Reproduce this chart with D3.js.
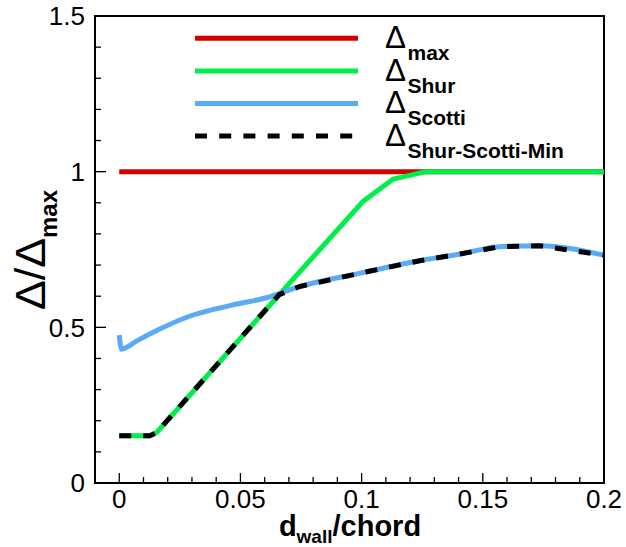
<!DOCTYPE html>
<html>
<head>
<meta charset="utf-8">
<script src="https://cdn.jsdelivr.net/npm/d3@7"></script>
<style>
  html, body { margin: 0; padding: 0; background: #fff; }
  svg { display: block; font-family: "Liberation Sans", Arial, sans-serif; }
</style>
</head>
<body>
<svg id="chart" width="626" height="547"></svg>
<script>
// ---- data ----
const xTicks = [0, 0.05, 0.1, 0.15, 0.2];
const xTickLabels = ["0", "0.05", "0.1", "0.15", "0.2"];
const yTicks = [0, 0.5, 1, 1.5];
const yTickLabels = ["0", "0.5", "1", "1.5"];

const maxX = [0, 0.2];
const maxV = [1, 1];

const shurX = [0, 0.0126, 0.0154, 0.066, 0.1005, 0.1129, 0.1266, 0.2];
const shurV = [0.152, 0.152, 0.162, 0.605, 0.904, 0.976, 1.0, 1.0];

const scottiX = [0, 0.0009, 0.0078, 0.0174, 0.0284, 0.038, 0.0469, 0.0607, 0.0744, 0.1, 0.1239, 0.1403, 0.1568, 0.1733, 0.2];
const scottiV = [0.475, 0.43, 0.459, 0.497, 0.534, 0.556, 0.572, 0.595, 0.631, 0.675, 0.714, 0.735, 0.759, 0.762, 0.732];

const minX = [0, 0.0126, 0.0154, 0.066, 0.0744, 0.1, 0.1239, 0.1403, 0.1568, 0.1733, 0.2];
const minV = [0.152, 0.152, 0.162, 0.605, 0.631, 0.675, 0.714, 0.735, 0.759, 0.762, 0.732];

const seriesNames = ["max", "Shur", "Scotti", "Shur-Scotti-Min"];

// ---- layout ----
const svg = d3.select("#chart");
const L = 95, R = 604, T = 16, B = 483;
const x = d3.scaleLinear().domain([-0.01, 0.2]).range([L, R]);
const y = d3.scaleLinear().domain([0, 1.5]).range([B, T]);

// ticks (inward)
const gx = svg.append("g").attr("transform", `translate(0,${B})`);
gx.selectAll("line.tk").data(d3.range(0, 21)).enter().append("line")
  .attr("x1", i => x(i * 0.01)).attr("x2", i => x(i * 0.01))
  .attr("y1", 0).attr("y2", i => (i % 5 === 0 ? -10 : -6))
  .attr("stroke", "#000").attr("stroke-width", 1.3);
gx.selectAll("text").data(xTicks).enter().append("text")
  .attr("x", d => x(d)).attr("y", 25)
  .attr("text-anchor", "middle").attr("font-size", 26).text((d, i) => xTickLabels[i]);

const gy = svg.append("g").attr("transform", `translate(${L},0)`);
gy.selectAll("line.tk").data(d3.range(0, 16)).enter().append("line")
  .attr("y1", i => y(i * 0.1)).attr("y2", i => y(i * 0.1))
  .attr("x1", 0).attr("x2", i => (i % 5 === 0 ? 11 : 6))
  .attr("stroke", "#000").attr("stroke-width", 1.3);
gy.selectAll("text").data(yTicks).enter().append("text")
  .attr("x", -10).attr("y", d => y(d))
  .attr("dy", "0.36em")
  .attr("text-anchor", "end").attr("font-size", 26).text((d, i) => yTickLabels[i]);

// frame
svg.append("rect").attr("x", L).attr("y", T).attr("width", R - L).attr("height", B - T)
  .attr("fill", "none").attr("stroke", "#000").attr("stroke-width", 2);

// lines
svg.append("clipPath").attr("id", "clip").append("rect")
  .attr("x", L).attr("y", T).attr("width", R - L).attr("height", B - T);
const plot = svg.append("g").attr("clip-path", "url(#clip)");

function pts(xs, vs) { return xs.map((d, i) => [d, vs[i]]); }
const lin = d3.line().x(d => x(d[0])).y(d => y(d[1]));
const smooth = d3.line().x(d => x(d[0])).y(d => y(d[1])).curve(d3.curveMonotoneX);

const cRed = "#d40000", cGreen = "#00ee4a", cBlue = "#5aaaf5";

plot.append("path").attr("d", lin(pts(maxX, maxV)))
  .attr("fill", "none").attr("stroke", cRed).attr("stroke-width", 5);
plot.append("path").attr("d", lin(pts(shurX, shurV)))
  .attr("fill", "none").attr("stroke", cGreen).attr("stroke-width", 5).attr("stroke-linejoin", "round");
plot.append("path").attr("d", smooth(pts(scottiX, scottiV)))
  .attr("fill", "none").attr("stroke", cBlue).attr("stroke-width", 5).attr("stroke-linejoin", "round");
plot.append("path").attr("d", lin(pts(minX, minV)))
  .attr("fill", "none").attr("stroke", "#000").attr("stroke-width", 5)
  .attr("stroke-dasharray", "12,12").attr("stroke-linejoin", "round");

// helper: text squeezed horizontally to a target width
function squeezed(parent, str, px, tx, ty, targetW) {
  const g = parent.append("g");
  const t = g.append("text").attr("x", 0).attr("y", 0).attr("font-size", px).text(str);
  const w = t.node().getComputedTextLength() || targetW;
  g.attr("transform", `translate(${tx},${ty}) scale(${targetW / w},1)`);
  return g;
}

// legend
const legColors = [cRed, cGreen, cBlue, "#000"];
const legY0 = 38.3, legDy = 32.6;
const leg = svg.append("g");
seriesNames.forEach((name, i) => {
  const yy = legY0 + i * legDy;
  leg.append("line").attr("x1", 195).attr("x2", 358).attr("y1", yy).attr("y2", yy)
    .attr("stroke", legColors[i]).attr("stroke-width", 5)
    .attr("stroke-dasharray", i === 3 ? "12,12.2" : null);
  squeezed(leg, "Δ", 32, 385, yy + 9.7, 21);
  leg.append("text").attr("x", 407.5).attr("y", yy + 21.7)
    .attr("font-size", 21).attr("font-weight", "bold").text(name);
});

// axis titles
const xt = svg.append("text").attr("x", 350).attr("y", 536).attr("text-anchor", "middle")
  .attr("font-weight", "bold");
xt.append("tspan").attr("font-size", 29).text("d");
xt.append("tspan").attr("font-size", 19).attr("dy", 7).text("wall");
xt.append("tspan").attr("font-size", 29).attr("dy", -7).text("/chord");

const yt = svg.append("g").attr("transform", "translate(45,250) rotate(-90)");
squeezed(yt, "Δ/Δ", 42, -60, 0, 72);
yt.append("text").attr("x", 12).attr("y", 12)
  .attr("font-size", 24).attr("font-weight", "bold").text("max");
</script>
</body>
</html>
